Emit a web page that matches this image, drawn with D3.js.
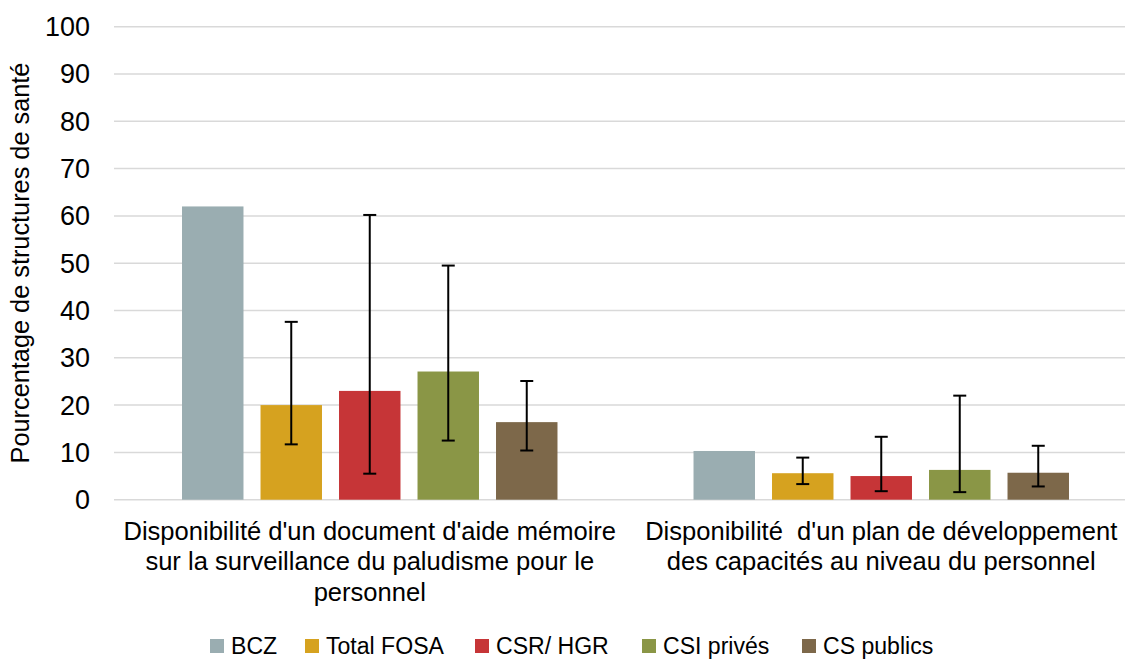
<!DOCTYPE html>
<html><head><meta charset="utf-8">
<script src="https://cdn.jsdelivr.net/npm/d3@7"></script>
<style>
body{margin:0;background:#fff;}
text{font-family:"Liberation Sans",Arial,sans-serif;}
</style></head>
<body><svg id="c" width="1125" height="659"></svg>
<script>
const categories = [
  ["Disponibilité d'un document d'aide mémoire","sur la surveillance du paludisme pour le","personnel"],
  ["Disponibilité  d'un plan de développement","des capacités au niveau du personnel"]
];
const series = ["BCZ","Total FOSA","CSR/ HGR","CSI privés","CS publics"];
const colors = ["#9AADB1","#D6A21F","#C63537","#8A9646","#7D684A"];
const values = [
  [62, 20, 23, 27.1, 16.4],
  [10.3, 5.6, 5.0, 6.3, 5.7]
];
const errLow = [
  [null, 11.7, 5.5, 12.5, 10.4],
  [null, 3.3, 1.8, 1.6, 2.8]
];
const errHigh = [
  [null, 37.6, 60.2, 49.5, 25.1],
  [null, 8.9, 13.3, 22.0, 11.4]
];
const yTicks = [0,10,20,30,40,50,60,70,80,90,100];
const yTitle = "Pourcentage de structures de santé";

const svg = d3.select("#c");
const pLeft = 114, pRight = 1137, pTop = 26.7, pBottom = 499.7;
const y = d3.scaleLinear().domain([0,100]).range([pBottom, pTop]);
const x0 = d3.scaleBand().domain(d3.range(categories.length)).range([pLeft, pRight]);
const groupW = 392.5;
const x1 = d3.scaleBand().domain(series).range([-groupW/2, groupW/2]).paddingInner(0.217).paddingOuter(0.1085);

// helper: font size so a string reaches a target width
function fitSize(str, target){
  const t = svg.append("text").attr("font-size",20).text(str);
  const w = t.node().getComputedTextLength();
  t.remove();
  return 20*target/w;
}
const fsTick = fitSize("100", 45);
const fsTitle = fitSize(yTitle, 401);
const fsCat = fitSize(categories[0][0], 493);
const fsLeg = fitSize("Total FOSA", 118);

// grid
svg.append("g").selectAll("line").data(yTicks).join("line")
  .attr("x1", pLeft).attr("x2", pRight)
  .attr("y1", d=>y(d)).attr("y2", d=>y(d))
  .attr("stroke","#d9d9d9").attr("stroke-width",1.5);

// y axis labels
const yAxis = d3.axisLeft(y).tickValues(yTicks).tickSize(0).tickPadding(0);
const ya = svg.append("g").attr("transform","translate(90,0)").call(yAxis);
ya.select(".domain").remove();
ya.attr("font-family",null);
ya.selectAll("text").attr("font-size",fsTick).attr("fill","#000").attr("dy","0.33em");

svg.append("text").attr("transform","translate(28.5,263) rotate(-90)")
  .attr("text-anchor","middle")
  .attr("font-size",fsTitle).attr("fill","#000").text(yTitle);

// bars
const g = svg.append("g");
categories.forEach((c,ci)=>{
  const cx = x0(ci) + x0.bandwidth()/2;
  series.forEach((s,si)=>{
    const bx = cx + x1(s);
    g.append("rect").attr("x",bx).attr("y",y(values[ci][si]))
      .attr("width",x1.bandwidth()).attr("height",y(0)-y(values[ci][si]))
      .attr("fill",colors[si]);
  });
});
// error bars
categories.forEach((c,ci)=>{
  const cx = x0(ci) + x0.bandwidth()/2;
  series.forEach((s,si)=>{
    if (errLow[ci][si]==null) return;
    const mx = cx + x1(s) + x1.bandwidth()/2;
    const lo = y(errLow[ci][si]), hi = y(errHigh[ci][si]);
    g.append("line").attr("x1",mx).attr("x2",mx).attr("y1",lo).attr("y2",hi).attr("stroke","#000").attr("stroke-width",2);
    [lo,hi].forEach(v=>g.append("line").attr("x1",mx-6.5).attr("x2",mx+6.5).attr("y1",v).attr("y2",v).attr("stroke","#000").attr("stroke-width",2));
  });
});

// category labels
categories.forEach((lines,ci)=>{
  const cx = x0(ci) + x0.bandwidth()/2;
  const t = svg.append("text").attr("text-anchor","middle")
    .attr("font-size",fsCat).attr("fill","#000").attr("xml:space","preserve");
  lines.forEach((l,li)=>t.append("tspan").attr("x",cx).attr("y",539.5+li*30.5).text(l));
});

// legend
const legX = [210, 305, 475, 642, 802];
const leg = svg.append("g");
series.forEach((s,si)=>{
  leg.append("rect").attr("x",legX[si]).attr("y",639).attr("width",14).attr("height",14).attr("fill",colors[si]);
  leg.append("text").attr("x",legX[si]+21).attr("y",653.5).attr("font-size",fsLeg).attr("fill","#000").text(s);
});
</script></body></html>
